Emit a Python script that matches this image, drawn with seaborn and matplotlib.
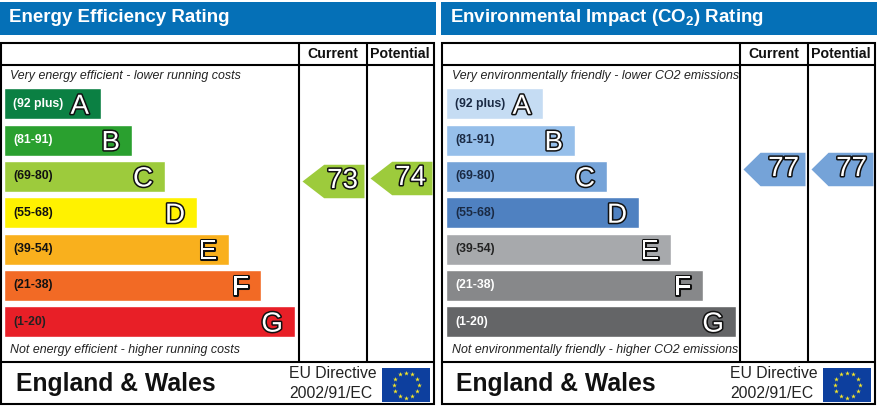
import numpy as np
import pandas as pd
import seaborn as sns
import matplotlib.pyplot as plt
import matplotlib.patheffects as pe
from matplotlib.patches import Rectangle
from matplotlib.path import Path

# Chart values
bands = ['(92 plus)', '(81-91)', '(69-80)', '(55-68)', '(39-54)', '(21-38)', '(1-20)']
letters = ['A', 'B', 'C', 'D', 'E', 'F', 'G']
energy_lengths = [97, 128, 161, 193, 225, 257, 291]
env_lengths = [97, 129, 161, 193, 225, 257, 290]
columns = ['Current', 'Potential']
energy_ratings = [73, 74]
env_ratings = [77, 77]

energy_colors = ['#0b8043', '#2aa02f', '#9dcb3c', '#fff200', '#f9b01d', '#f26a25', '#e81f27']
env_colors = ['#c5dcf3', '#96bfea', '#75a3d8', '#4f81c1', '#a7a9ac', '#87888a', '#646567']
energy_text = ['white', 'white', '#111111', '#111111', '#111111', '#111111', '#222222']
env_text = ['#1a2a44', '#1a2a44', '#1a2a44', '#1a2a44', '#222222', 'white', 'white']

W, H = 877, 409

sns.set_theme(style='white')
plt.rcParams['font.family'] = ['Liberation Sans', 'DejaVu Sans']
plt.rcParams['mathtext.fontset'] = 'custom'
plt.rcParams['mathtext.bf'] = 'Liberation Sans:bold'

fig = plt.figure(figsize=(W / 100, H / 100), dpi=100, facecolor='white')


def px_axes(x0, y0, x1, y1):
    ax = fig.add_axes([x0 / W, 1 - y1 / H, (x1 - x0) / W, (y1 - y0) / H])
    ax.patch.set_alpha(0)
    return ax


def outlined(ax, x, y, s, size, ha='center'):
    ax.text(x, y, s, fontsize=size, color='white', ha=ha, va='center_baseline',
            path_effects=[pe.withStroke(linewidth=2.2, foreground='#111111')], zorder=5)


frame = px_axes(0, 0, W, H)
frame.set_xlim(0, W)
frame.set_ylim(H, 0)
frame.axis('off')


def draw_panel(x0, title, top_note, bottom_note, lengths, colors, label_colors, ratings,
               arrow_color, shoulder, bar_inset):
    # header strip
    frame.add_patch(Rectangle((x0 - 1, 2), 436, 33, color='#0570b7', lw=0))
    frame.text(x0 + 8, 17, title, color='white', fontsize=13.5, fontweight='bold', va='center')

    # box and grid lines
    right = x0 + 433
    col1, col2 = x0 + 298, x0 + 366
    frame.add_patch(Rectangle((x0, 43), 433, 361, fill=False, ec='black', lw=1.5))
    for y in (65, 362):
        frame.plot([x0, right], [y, y], color='black', lw=1.5)
    for x in (col1, col2):
        frame.plot([x, x], [43, 362], color='black', lw=1.5)
    for x, name in zip((x0 + 332, x0 + 398.5), columns):
        frame.text(x, 54.5, name, fontsize=10.2, fontweight='bold', ha='center', va='center',
                   color='#111111')

    frame.text(x0 + 9.5, 75.5, top_note, fontsize=8.9, style='italic', va='center', color='#222222')
    frame.text(x0 + 9.5, 349.5, bottom_note, fontsize=8.9, style='italic', va='center', color='#222222')

    # footer
    frame.text(x0 + 14.5, 384.5, 'England & Wales', fontsize=17.8, fontweight='bold', va='center',
               color='#111111')
    frame.text(x0 + 288, 373.5, 'EU Directive', fontsize=11.3, va='center', color='#222222')
    frame.text(x0 + 288, 393.5, '2002/91/EC', fontsize=11.3, va='center', color='#222222')
    frame.add_patch(Rectangle((x0 + 381, 368), 48, 34, color='#0d3f9e', lw=0))
    angles = np.arange(12) * np.pi / 6
    frame.scatter(x0 + 405 + 12.5 * np.cos(angles), 385 + 12.5 * np.sin(angles),
                  marker='*', s=13, color='#f5e629', lw=0, zorder=4)

    # rating bands
    band_df = pd.DataFrame({'band': bands, 'length': lengths})
    ax = px_axes(x0 + bar_inset, 85.7, x0 + bar_inset + 294, 339.8)
    sns.barplot(data=band_df, y='band', x='length', hue='band', palette=colors, dodge=False,
                legend=False, width=0.855, saturation=1, ax=ax)
    ax.set_xlim(0, 294)
    ax.set_ylim(6.5, -0.5)
    ax.axis('off')
    for i, (band, letter, length) in enumerate(zip(bands, letters, lengths)):
        ax.text(9, i, band, fontsize=8.8, fontweight='bold', color=label_colors[i],
                ha='left', va='center')
        outlined(ax, length - 12, i, letter, 20, ha='right')

    # current / potential arrows, 3 px per rating point
    rating_df = pd.DataFrame({'column': columns, 'rating': ratings})
    ax2 = px_axes(col1, 66, col1 + 136, 362)
    arrow = Path([(-1, 0), (shoulder, 0.54), (1, 0.54), (1, -0.54), (shoulder, -0.54), (-1, 0)],
                 closed=True)
    sns.scatterplot(data=rating_df, x='column', y='rating', marker=arrow, s=(62 * 0.72) ** 2,
                    color=arrow_color, linewidth=0, ax=ax2)
    ax2.set_xlim(-0.5, 1.5)
    ax2.set_ylim(73 - (362 - 181) / 3, 73 + (181 - 66) / 3)
    ax2.axis('off')
    for i, rating in enumerate(ratings):
        outlined(ax2, i + 0.14, rating + 1, str(rating), 20)


draw_panel(1, 'Energy Efficiency Rating',
           'Very energy efficient - lower running costs',
           'Not energy efficient - higher running costs',
           energy_lengths, energy_colors, energy_text, energy_ratings, '#9dcb3c', -0.3, 3)
draw_panel(442, r'Environmental Impact (CO$_{\mathbf{2}}$) Rating',
           'Very environmentally friendly - lower CO2 emissions',
           'Not environmentally friendly - higher CO2 emissions',
           env_lengths, env_colors, env_text, env_ratings, '#75a3d8', -0.45, 4)

fig.savefig('out.png', dpi=100)
